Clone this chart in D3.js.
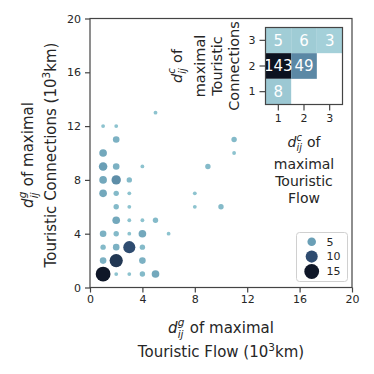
<!DOCTYPE html>
<html>
<head>
<meta charset="utf-8">
<script src="https://cdn.jsdelivr.net/npm/d3@7/dist/d3.min.js"></script>
<style>
  body { margin: 0; background: #fff; }
  text { font-family: "DejaVu Sans", sans-serif; fill: #262626; }
</style>
</head>
<body>
<div id="chart"></div>
<script>
// scatter: max-flow distance (x) vs max-connection distance (y), 10^3 km, with pair counts
var flowKm = [1,2,3,4,5, 1,2,4, 1,2,3,4, 1,2,3,4,6, 2,3,4,5, 2,3,8,10, 1,2,3,8, 1,2,3, 1,2,4,9, 1,11, 2,11, 1,2, 5]
var connKm = [1,1,1,1,1, 2,2,2, 3,3,3,3, 4,4,4,4,4, 5,5,5,5, 6,6,6,6, 7,7,7,7, 8,8,8, 9,9,9,9, 10,10, 11,11, 12,12, 13]
var pairCount = [15,1,1,2,4, 3,12,3, 2,3,10,2, 3,2,1,4,1, 4,1,1,2, 2,1,1,2, 4,2,1,1, 4,6,2, 5,3,1,2, 4,1, 3,2, 1,1, 1]

var axisTicks = [0, 4, 8, 12, 16, 20]
var legendValues = [5, 10, 15]

// inset heatmap: community distance of max flow vs max connection
var flowComm = [1, 2, 3, 1, 2, 1]
var connComm = [3, 3, 3, 2, 2, 1]
var heatCount = [5, 6, 3, 143, 49, 8]
var commLevels = [1, 2, 3]

var W = 374, H = 374
var svg = d3.select("#chart").append("svg")
  .attr("width", W).attr("height", H)

var x = d3.scaleLinear().domain([0, 20]).range([90, 352])
var y = d3.scaleLinear().domain([0, 20]).range([287.5, 18.5])
var r = d3.scaleSqrt().domain([0, 15]).range([0, 7.4])
var color = d3.scaleLinear()
  .domain([1, 5, 10, 15])
  .range(["#8dc3cf", "#6a9fb6", "#2f4c70", "#0f1728"])

// axes
var xAxis = svg.append("g")
  .attr("transform", "translate(0," + y(0) + ")")
  .call(d3.axisBottom(x).tickValues(axisTicks).tickSize(5).tickPadding(3))
var yAxis = svg.append("g")
  .attr("transform", "translate(" + x(0) + ",0)")
  .call(d3.axisLeft(y).tickValues(axisTicks).tickSize(5).tickPadding(4))
svg.selectAll(".domain").remove()

// frame
svg.append("rect")
  .attr("x", x(0)).attr("y", y(20))
  .attr("width", x(20) - x(0)).attr("height", y(0) - y(20))
  .attr("fill", "none").attr("stroke", "#444").attr("stroke-width", 1.2)

// points
var pts = flowKm.map(function(d, i) { return { fx: d, cy: connKm[i], n: pairCount[i] } })
svg.append("g").selectAll("circle")
  .data(pts).enter()
  .append("circle")
  .attr("cx", function(d) { return x(d.fx) })
  .attr("cy", function(d) { return y(d.cy) })
  .attr("r", function(d) { return r(d.n) })
  .attr("fill", function(d) { return color(d.n) })

// math label helper: d_ij^sup
function mathD(t, sup, rest, fs) {
  t.append("tspan").style("font-style", "italic").text("d")
  t.append("tspan").style("font-style", "italic").style("font-size", (fs * 0.7) + "px")
    .attr("dy", fs * 0.3).text("ij")
  t.append("tspan").style("font-style", "italic").style("font-size", (fs * 0.7) + "px")
    .attr("dx", -fs * 0.39).attr("dy", -fs * 0.75).text(sup)
  t.append("tspan").attr("dy", fs * 0.45).attr("dx", fs * 0.05).text(rest)
}

// x label
var xl1 = svg.append("text").attr("x", 221).attr("y", 333)
  .attr("text-anchor", "middle").style("font-size", "15px")
mathD(xl1, "g", " of maximal", 15)
var xl2 = svg.append("text").attr("x", 221).attr("y", 357)
  .attr("text-anchor", "middle").style("font-size", "15px")
xl2.append("tspan").text("Touristic Flow (10")
xl2.append("tspan").style("font-size", "10.5px").attr("dy", -6).text("3")
xl2.append("tspan").attr("dy", 6).text("km)")

// y label
var yl1 = svg.append("text").attr("transform", "translate(33,155) rotate(-90)")
  .attr("text-anchor", "middle").style("font-size", "15px")
mathD(yl1, "g", " of maximal", 15)
var yl2 = svg.append("text").attr("transform", "translate(56,155) rotate(-90)")
  .attr("text-anchor", "middle").style("font-size", "15px")
yl2.append("tspan").text("Touristic Connections (10")
yl2.append("tspan").style("font-size", "10.5px").attr("dy", -6).text("3")
yl2.append("tspan").attr("dy", 6).text("km)")

// legend
var lg = svg.append("g")
lg.append("rect").attr("x", 296.5).attr("y", 232.5).attr("width", 51).attr("height", 49)
  .attr("rx", 3).attr("fill", "#fff").attr("fill-opacity", 0.85)
  .attr("stroke", "#d0d0d0").attr("stroke-width", 1)
var ly = d3.scalePoint().domain(legendValues).range([241.7, 271.5])
lg.selectAll("circle").data(legendValues).enter().append("circle")
  .attr("cx", 311.7).attr("cy", function(d) { return ly(d) })
  .attr("r", function(d) { return r(d) }).attr("fill", function(d) { return color(d) })
lg.selectAll("text").data(legendValues).enter().append("text")
  .attr("x", 326.5).attr("y", function(d) { return ly(d) }).attr("dy", "0.35em")
  .style("font-size", "11px").text(function(d) { return d })

// inset heatmap
var hx = d3.scaleBand().domain(commLevels).range([265.5, 342.5])
var hy = d3.scaleBand().domain(commLevels.slice().reverse()).range([27.5, 104.5])
var hcol = d3.scaleLinear().domain([0, 49, 143]).range(["#a9d5dc", "#5b88a5", "#0c1220"])
var cells = heatCount.map(function(d, i) { return { a: flowComm[i], b: connComm[i], n: d } })
var hm = svg.append("g")
hm.append("rect").attr("x", 265.5).attr("y", 27.5).attr("width", 77).attr("height", 77).attr("fill", "#fff")
hm.selectAll("rect.cell").data(cells).enter().append("rect")
  .attr("class", "cell")
  .attr("x", function(d) { return hx(d.a) }).attr("y", function(d) { return hy(d.b) })
  .attr("width", hx.bandwidth()).attr("height", hy.bandwidth())
  .attr("fill", function(d) { return hcol(d.n) })
hm.selectAll("text.val").data(cells).enter().append("text")
  .attr("class", "val")
  .attr("x", function(d) { return hx(d.a) + hx.bandwidth() / 2 })
  .attr("y", function(d) { return hy(d.b) + hy.bandwidth() / 2 })
  .attr("dy", "0.36em").attr("text-anchor", "middle")
  .style("font-size", "15px").style("fill", "#fff")
  .text(function(d) { return d.n })
hm.append("rect").attr("x", 265.5).attr("y", 27.5).attr("width", 77).attr("height", 77)
  .attr("fill", "none").attr("stroke", "#444").attr("stroke-width", 1.2)

var hxa = svg.append("g").attr("transform", "translate(0,104.5)")
  .call(d3.axisBottom(hx).tickSize(6).tickPadding(4))
var hya = svg.append("g").attr("transform", "translate(265.5,0)")
  .call(d3.axisLeft(hy).tickSize(6).tickPadding(4))
hxa.selectAll(".domain").remove()
hya.selectAll(".domain").remove()
svg.selectAll(".tick text").style("font-size", "11px").style("font-family", "DejaVu Sans").attr("fill", "#262626")
svg.selectAll(".tick line").attr("stroke", "#444").attr("stroke-width", 1.2)

// inset labels
var hyl = ["", "maximal", "Touristic", "Connections"]
var hyx = [182, 205, 222, 239]
hyl.forEach(function(s, i) {
  var t = svg.append("text").attr("transform", "translate(" + hyx[i] + ",66) rotate(-90)")
    .attr("text-anchor", "middle").style("font-size", "14.5px")
  if (i == 0) mathD(t, "c", " of", 14.5)
  else t.text(s)
})
var hxl = ["", "maximal", "Touristic", "Flow"]
var hxy = [147, 169, 186, 203]
hxl.forEach(function(s, i) {
  var t = svg.append("text").attr("x", 304).attr("y", hxy[i])
    .attr("text-anchor", "middle").style("font-size", "14px")
  if (i == 0) mathD(t, "c", " of", 14)
  else t.text(s)
})
</script>
</body>
</html>
